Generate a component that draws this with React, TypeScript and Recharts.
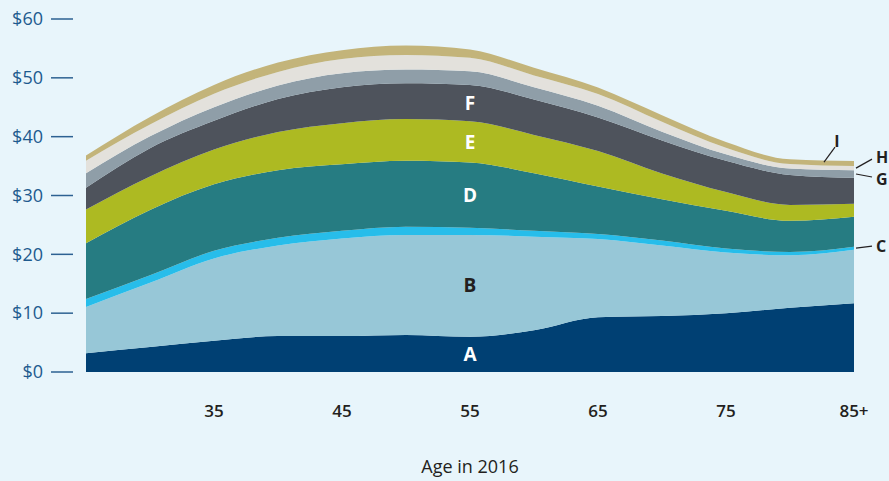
import {
  Area,
  AreaChart,
  ReferenceDot,
  XAxis,
  YAxis,
} from "recharts";

// ages along the x axis (85 = "85+")
const ages = [25, 30, 35, 40, 45, 50, 55, 60, 65, 70, 75, 80, 85];

// layer values, bottom (A) to top (I)
const seriesA = [3.2, 4.25, 5.3, 6.1, 6.1, 6.3, 6.0, 7.1, 9.3, 9.5, 10.0, 10.9, 11.7];
const seriesB = [7.85, 10.9, 14.0, 15.4, 16.6, 17.0, 17.3, 15.9, 13.3, 12.0, 10.3, 8.95, 9.1];
const seriesC = [1.35, 1.3, 1.3, 1.3, 1.3, 1.4, 1.2, 1.0, 0.85, 0.85, 0.7, 0.55, 0.5];
const seriesD = [9.5, 11.1, 11.3, 11.5, 11.3, 11.2, 11.1, 9.8, 8.1, 7.0, 6.4, 5.3, 5.1];
const seriesE = [5.7, 5.7, 5.9, 6.5, 7.0, 7.1, 7.0, 6.5, 6.0, 4.4, 3.2, 2.7, 2.2];
const seriesF = [3.7, 4.8, 4.9, 5.6, 6.1, 6.1, 6.2, 6.0, 5.7, 5.6, 5.3, 5.1, 4.4];
const seriesG = [2.5, 2.0, 2.3, 2.3, 2.4, 2.3, 2.3, 2.1, 2.0, 1.5, 1.1, 1.1, 1.3];
const seriesH = [2.1, 2.0, 2.3, 2.3, 2.4, 2.5, 2.3, 2.0, 2.0, 1.7, 1.1, 0.75, 0.7];
const seriesI = [0.9, 1.3, 1.5, 1.6, 1.5, 1.6, 1.4, 1.3, 1.1, 1.1, 1.0, 0.8, 0.85];

const layerKeys = ["A", "B", "C", "D", "E", "F", "G", "H", "I"];
const layerValues = [seriesA, seriesB, seriesC, seriesD, seriesE, seriesF, seriesG, seriesH, seriesI];
const layerColors = ["#004073", "#97c7d7", "#27bdea", "#267c82", "#adba22", "#4e535c", "#8f9ea8", "#e3e1dc", "#c3b47a"];

const yTicks = [0, 10, 20, 30, 40, 50, 60];
const xTicks = [35, 45, 55, 65, 75, 85];

const data = ages.map((age, i) => {
  const row: any = { age };
  layerKeys.forEach((k, j) => (row[k] = layerValues[j][i]));
  return row;
});

// middle of a band at a given age index
const bandMid = (layer: number, idx: number) => {
  let base = 0;
  for (let j = 0; j < layer; j++) base += layerValues[j][idx];
  return base + layerValues[layer][idx] / 2;
};
const bandTop = (layer: number, idx: number) => {
  let top = 0;
  for (let j = 0; j <= layer; j++) top += layerValues[j][idx];
  return top;
};

const FONT = "'Open Sans', 'Noto Sans', sans-serif";
const mid55 = ages.indexOf(55);
const last = ages.length - 1;

// letters drawn inside the bands
const innerLabels = [
  { layer: 0, text: "A", color: "#ffffff" },
  { layer: 1, text: "B", color: "#231f20" },
  { layer: 3, text: "D", color: "#ffffff" },
  { layer: 4, text: "E", color: "#ffffff" },
  { layer: 5, text: "F", color: "#ffffff" },
];

// letters outside the right edge, with leader lines (pixel offsets)
const sideLabels = [
  { layer: 2, text: "C", y: () => bandMid(2, last), line: [2, 0, 18, -2], tx: 22, ty: -2 },
  { layer: 6, text: "G", y: () => bandMid(6, last), line: [2, 0, 18, 3], tx: 22, ty: 5 },
  { layer: 7, text: "H", y: () => bandMid(7, last), line: [2, 0, 18, -9], tx: 22, ty: -11 },
  { layer: 8, text: "I", y: () => bandTop(8, last), line: [-30, 1, -19, -14], tx: -17, ty: -20 },
];

const YTick = ({ x, y, payload }: any) => (
  <g>
    <text x={x - 43} y={y} dy="0.35em" textAnchor="end" fill="#1d5a8e" fontSize={18} fontFamily={FONT}>
      ${payload.value}
    </text>
    <line x1={x - 35} x2={x - 13} y1={y} y2={y} stroke="#2d6192" strokeWidth={1.5} />
  </g>
);

const XTick = ({ x, y, payload }: any) => (
  <text x={x} y={y + 39} dy="0.35em" textAnchor="middle" fill="#231f20" fontSize={17} fontWeight={600} fontFamily={FONT}>
    {payload.value === 85 ? "85+" : payload.value}
  </text>
);

export default function App() {
  return (
    <div style={{ position: "absolute", left: 0, top: 0, width: 889, height: 481, background: "#e8f5fb" }}>
      <AreaChart width={889} height={481} data={data} margin={{ top: 19, right: 35, left: 0, bottom: 0 }}>
        <XAxis
          dataKey="age"
          type="number"
          domain={[25, 85]}
          ticks={xTicks}
          axisLine={false}
          tickLine={false}
          tickSize={0}
          tickMargin={0}
          height={109}
          tick={<XTick />}
          label={{ value: "Age in 2016", position: "insideBottom", offset: 8, fill: "#231f20", fontSize: 18, fontFamily: FONT }}
        />
        <YAxis
          type="number"
          domain={[0, 60]}
          ticks={yTicks}
          axisLine={false}
          tickLine={false}
          tickSize={0}
          tickMargin={0}
          width={86}
          tick={<YTick />}
        />
        {layerKeys.map((k, j) => (
          <Area
            key={k}
            type="monotone"
            dataKey={k}
            stackId="1"
            stroke="none"
            fill={layerColors[j]}
            fillOpacity={1}
            isAnimationActive={false}
          />
        ))}
        {innerLabels.map((l) => (
          <ReferenceDot
            key={l.text}
            x={55}
            y={bandMid(l.layer, mid55)}
            r={0}
            shape={(p: any) => (
              <text x={p.cx} y={p.cy} dy="0.35em" textAnchor="middle" fill={l.color} fontSize={19} fontWeight={700} fontFamily={FONT}>
                {l.text}
              </text>
            )}
          />
        ))}
        {sideLabels.map((l) => (
          <ReferenceDot
            key={l.text}
            x={85}
            y={l.y()}
            r={0}
            ifOverflow="visible"
            shape={(p: any) => (
              <g>
                <line
                  x1={p.cx + l.line[0]}
                  y1={p.cy + l.line[1]}
                  x2={p.cx + l.line[2]}
                  y2={p.cy + l.line[3]}
                  stroke="#231f20"
                  strokeWidth={1.2}
                />
                <text
                  x={p.cx + l.tx}
                  y={p.cy + l.ty}
                  dy="0.35em"
                  textAnchor={l.text === "I" ? "middle" : "start"}
                  fill="#231f20"
                  fontSize={16}
                  fontWeight={700}
                  fontFamily={FONT}
                >
                  {l.text}
                </text>
              </g>
            )}
          />
        ))}
      </AreaChart>
    </div>
  );
}
